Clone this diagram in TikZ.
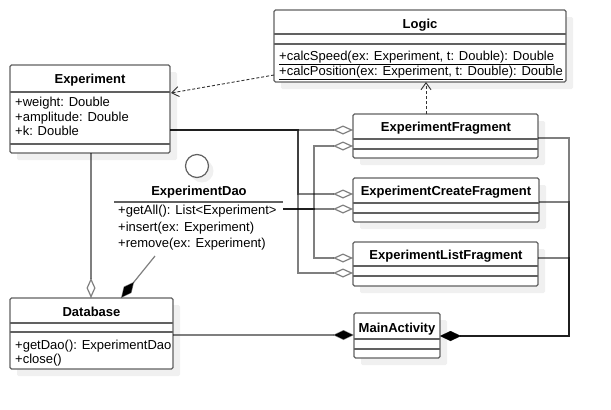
\documentclass[tikz,border=0pt]{standalone}
\usepackage{fontspec}
\setmainfont{Liberation Sans}
\usetikzlibrary{arrows.meta,shadows}
\begin{document}
\begin{tikzpicture}[x=1pt,y=-1pt,
  classbox/.style={draw=black!62, line width=1.3pt, fill=white, rounded corners=1.5pt,
    anchor=north west, inner sep=0pt, outer sep=0pt,
    general shadow={fill=black!6, shadow xshift=7pt, shadow yshift=-7pt}},
  iface/.style={circle, draw=black!62, line width=1.2pt, fill=white, minimum size=23pt,
    inner sep=0pt, general shadow={fill=black!6, shadow xshift=5pt, shadow yshift=-5pt}},
  sepline/.style={draw=black!62, line width=1.3pt},
  title/.style={font=\bfseries\fontsize{13}{15}\selectfont, inner sep=0pt, anchor=base},
  member/.style={font=\fontsize{13}{15}\selectfont, inner sep=0pt, anchor=base west},
  link/.style={draw=black, draw opacity=0.5, line width=1.2pt},
  agg/.style={link, -{Diamond[open, fill=white, length=20pt, width=9pt]}},
  comp/.style={link, -{Diamond[length=21pt, width=10pt]}},
  dep/.style={draw=black!80, line width=0.9pt, dash pattern=on 3pt off 2pt,
    -{Straight Barb[length=7pt, width=10pt]}}]
\useasboundingbox (0,0) rectangle (611,410);

% the classes
\node[classbox, minimum width=292, minimum height=72] (logic) at (274,10) {};
\draw[sepline] (logic.west |- 0,34) -- (logic.east |- 0,34);
\draw[sepline] (logic.west |- 0,44) -- (logic.east |- 0,44);
\node[title] (logicname) at (420,28) {Logic};
\node[member] (logicop1) at (279,60) {\underline{+calcSpeed(ex: Experiment, t: Double): Double}};
\node[member] (logicop2) at (279,75.5) {\underline{+calcPosition(ex: Experiment, t: Double): Double}};

\node[classbox, minimum width=160, minimum height=88] (exp) at (10,65) {};
\draw[sepline] (exp.west |- 0,92) -- (exp.east |- 0,92);
\draw[sepline] (exp.west |- 0,144) -- (exp.east |- 0,144);
\node[title] (expname) at (90,83) {Experiment};
\node[member] (expattr1) at (15,106.5) {+weight: Double};
\node[member] (expattr2) at (15,121) {+amplitude: Double};
\node[member] (expattr3) at (15,135.5) {+k: Double};

\node[iface] (dao) at (197,166) {};
\draw[sepline] (114,202) -- (283,202);
\node[title] (daoname) at (199,195) {ExperimentDao};
\node[member] (daoop1) at (118,214.5) {+getAll(): List<Experiment>};
\node[member] (daoop2) at (118,231) {+insert(ex: Experiment)};
\node[member] (daoop3) at (118,247.5) {+remove(ex: Experiment)};

\node[classbox, minimum width=163, minimum height=71] (db) at (10,298) {};
\draw[sepline] (db.west |- 0,323) -- (db.east |- 0,323);
\draw[sepline] (db.west |- 0,332) -- (db.east |- 0,332);
\node[title] (dbname) at (91.5,316) {Database};
\node[member] (dbop1) at (15,349) {+getDao(): ExperimentDao};
\node[member] (dbop2) at (15,363) {+close()};

\node[classbox, minimum width=185, minimum height=44] (fragA) at (353,114) {};
\draw[sepline] (fragA.west |- 0,139) -- (fragA.east |- 0,139);
\draw[sepline] (fragA.west |- 0,149) -- (fragA.east |- 0,149);
\node[title] (fragAname) at (446,131) {ExperimentFragment};

\node[classbox, minimum width=186, minimum height=44] (fragB) at (353,178) {};
\draw[sepline] (fragB.west |- 0,203) -- (fragB.east |- 0,203);
\draw[sepline] (fragB.west |- 0,213) -- (fragB.east |- 0,213);
\node[title] (fragBname) at (446,195) {ExperimentCreateFragment};

\node[classbox, minimum width=185, minimum height=44] (fragC) at (353,242) {};
\draw[sepline] (fragC.west |- 0,266) -- (fragC.east |- 0,266);
\draw[sepline] (fragC.west |- 0,276) -- (fragC.east |- 0,276);
\node[title] (fragCname) at (446,259) {ExperimentListFragment};

\node[classbox, minimum width=86, minimum height=45] (main) at (354,313) {};
\draw[sepline] (main.west |- 0,339) -- (main.east |- 0,339);
\draw[sepline] (main.west |- 0,349) -- (main.east |- 0,349);
\node[title] (mainname) at (397,332) {MainActivity};

% the ports
\coordinate (expport) at (170,130);
\coordinate (expdown) at (91,153);
\coordinate (expdep) at (171,93);
\coordinate (daoport) at (283,209);
\coordinate (daotail) at (155,256);
\coordinate (logicleft) at (274,75);
\coordinate (logicbot) at (426,82);
\coordinate (fragAtop) at (426,114);
\coordinate (fragAin1) at (353,130);
\coordinate (fragAin2) at (353,146);
\coordinate (fragAout) at (538,138);
\coordinate (fragBin1) at (353,194);
\coordinate (fragBin2) at (353,209);
\coordinate (fragBout) at (539,202);
\coordinate (fragCin1) at (353,258);
\coordinate (fragCin2) at (353,273);
\coordinate (fragCout) at (538,258);
\coordinate (mainE) at (440,336);
\coordinate (mainW) at (354,335);
\coordinate (dbtop1) at (91,298);
\coordinate (dbtop2) at (121,298);
\coordinate (dbport) at (173,335);
\coordinate (forkE) at (298,0);
\coordinate (forkD) at (314,0);
\coordinate (forkM) at (569,0);

% aggregation of the fragments
\draw[agg] (expport) -- (fragAin1);
\draw[agg] (expport) -- (expport -| forkE) |- (fragBin1);
\draw[agg] (expport) -- (expport -| forkE) |- (fragCin2);
\draw[agg] (daoport) -- (daoport -| forkD) |- (fragAin2);
\draw[agg] (daoport) -- (fragBin2);
\draw[agg] (daoport) -- (daoport -| forkD) |- (fragCin1);

% composition and the database
\draw[comp] (fragAout) -- (fragAout -| forkM) |- (mainE);
\draw[comp] (fragBout) -- (fragBout -| forkM) |- (mainE);
\draw[comp] (fragCout) -- (fragCout -| forkM) |- (mainE);
\draw[comp] (dbport) -- (mainW);
\draw[comp] (daotail) -- (dbtop2);
\draw[agg] (expdown) -- (dbtop1);

% dependencies
\draw[dep] (logicleft) -- (expdep);
\draw[dep] (fragAtop) -- (logicbot);
\end{tikzpicture}
\end{document}
